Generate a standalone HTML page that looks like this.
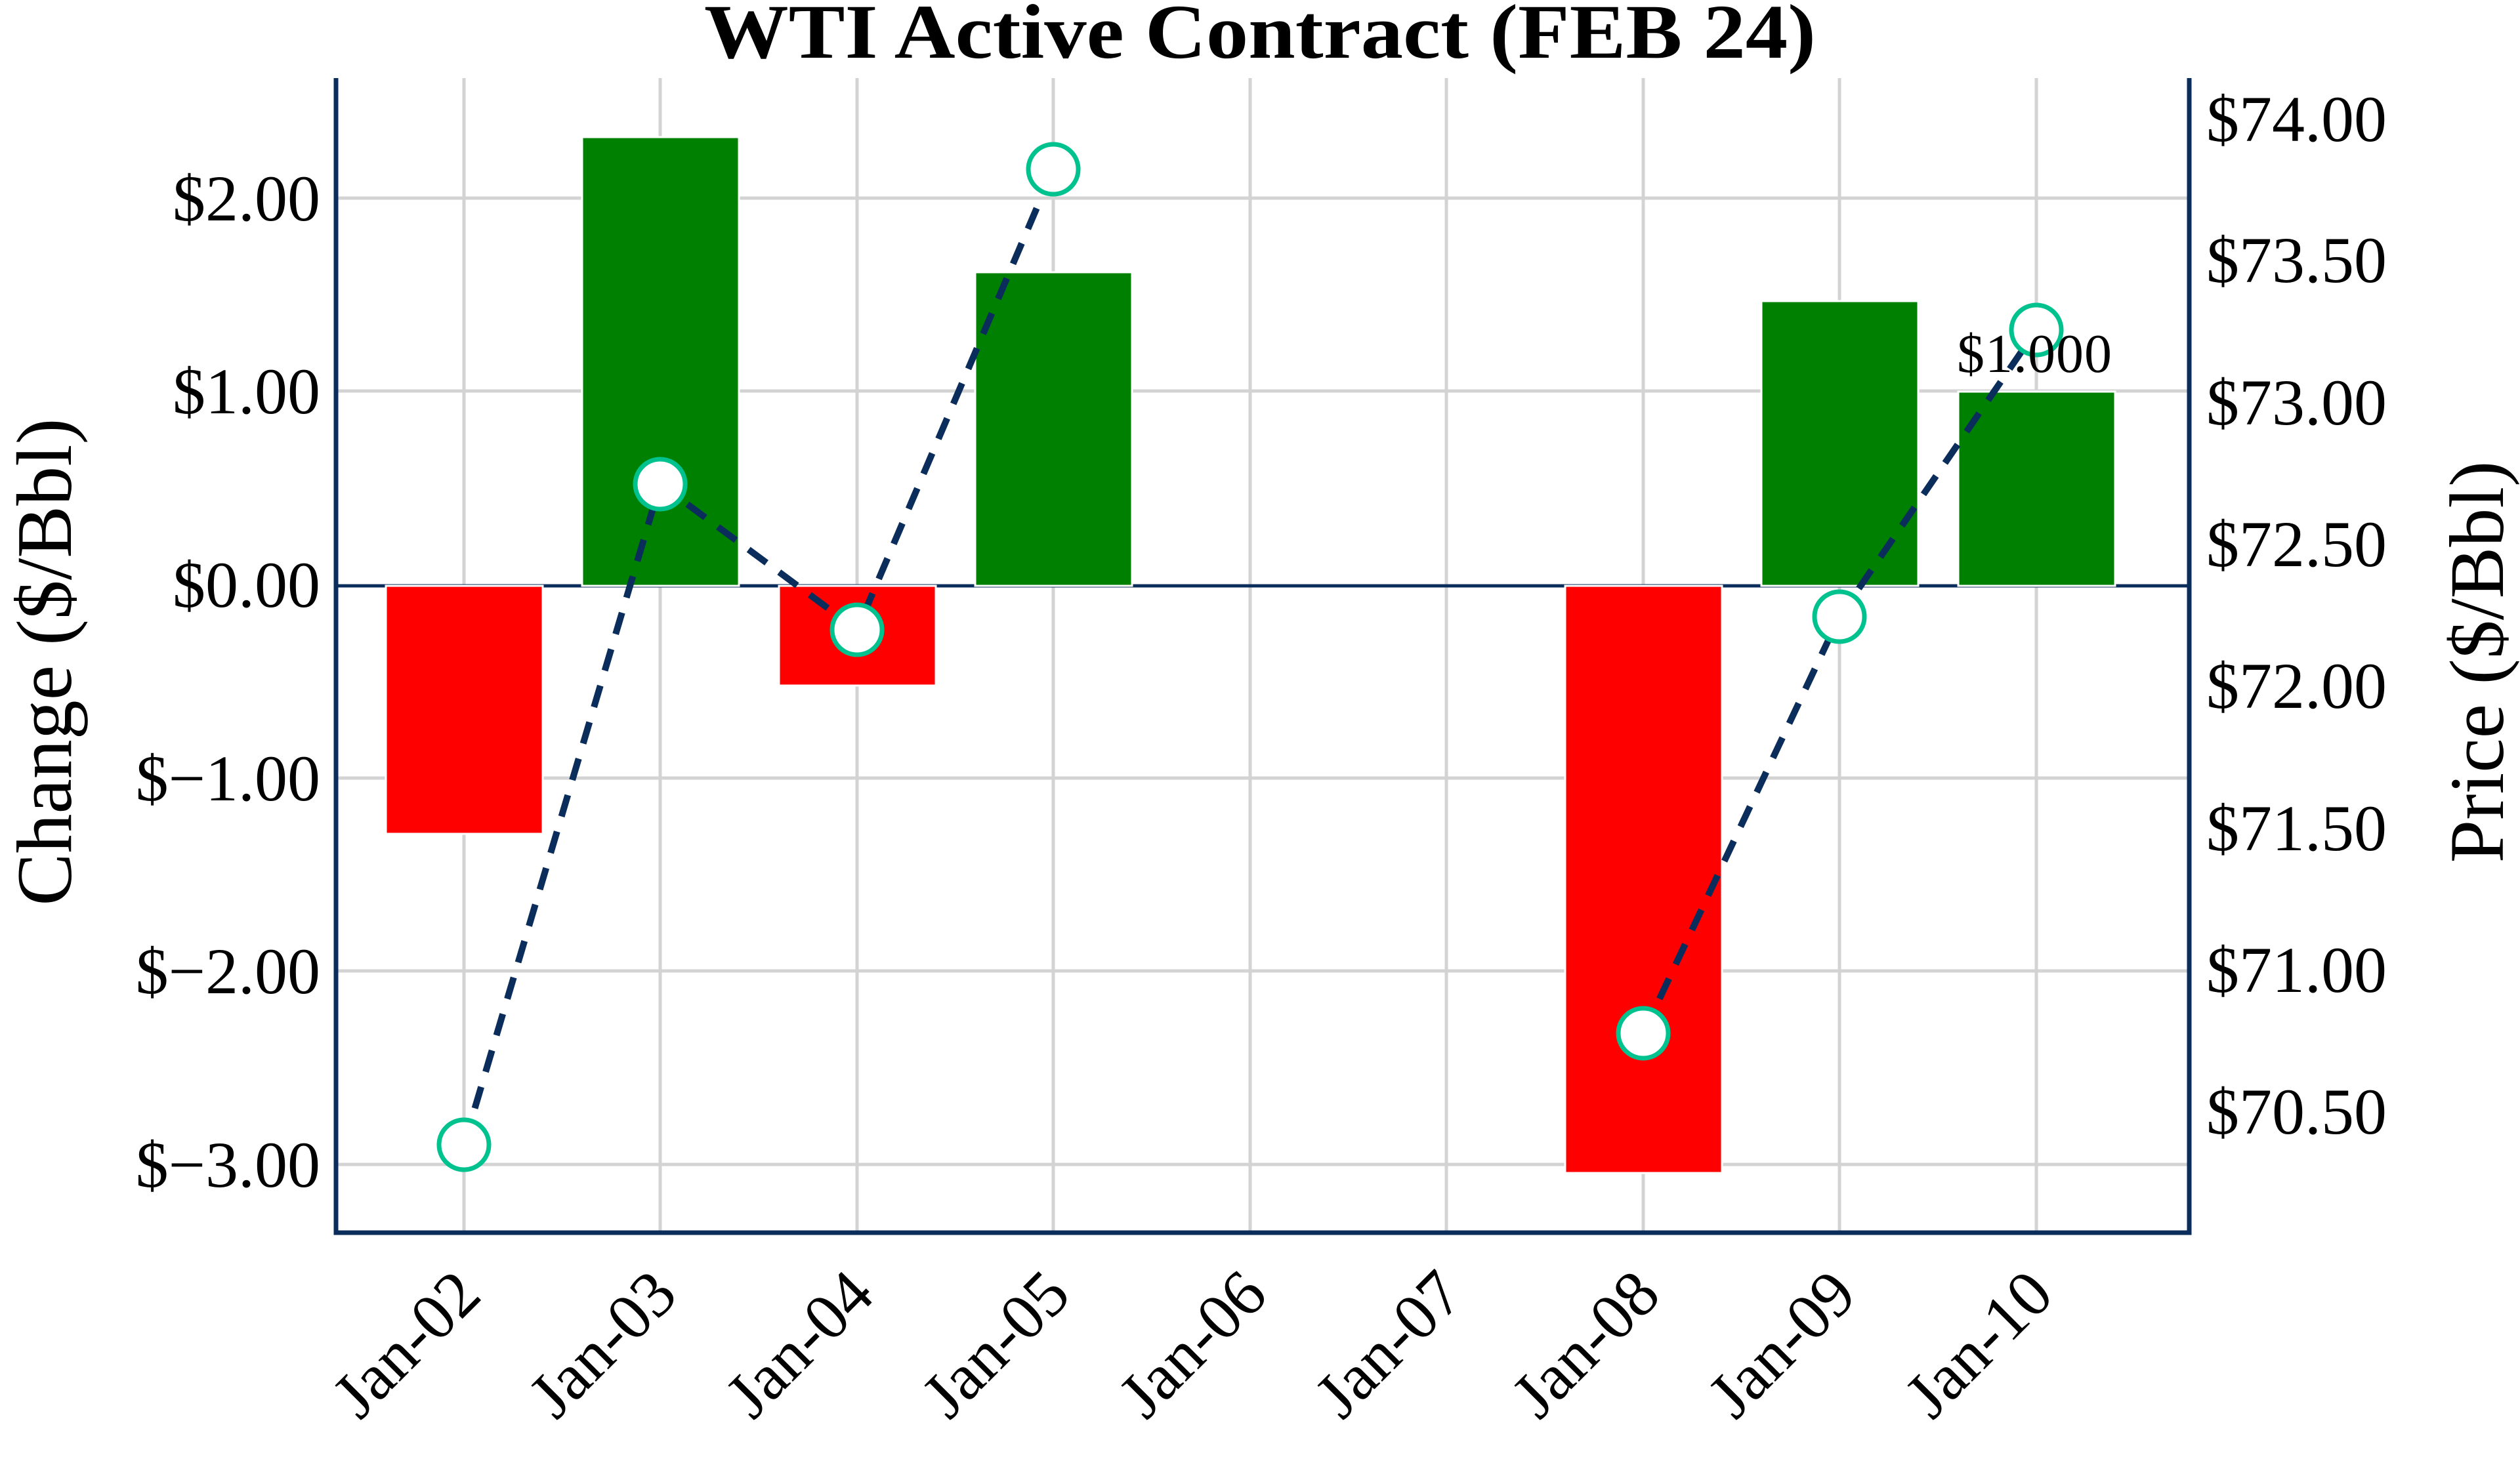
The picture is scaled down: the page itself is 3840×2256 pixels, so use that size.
<!DOCTYPE html>
<html><head><meta charset="utf-8"><style>
html,body{margin:0;padding:0;background:#fff;}
svg{display:block;}
text{font-family:"Liberation Serif",serif;fill:#000;}
</style></head><body>
<svg width="3840" height="2256" viewBox="0 0 3840 2256" xmlns="http://www.w3.org/2000/svg">
<rect width="3840" height="2256" fill="#fff"/>
<g stroke="#d3d3d3" stroke-width="5">
<line x1="707" y1="119" x2="707" y2="1879"/>
<line x1="1006" y1="119" x2="1006" y2="1879"/>
<line x1="1306" y1="119" x2="1306" y2="1879"/>
<line x1="1605" y1="119" x2="1605" y2="1879"/>
<line x1="1905" y1="119" x2="1905" y2="1879"/>
<line x1="2204" y1="119" x2="2204" y2="1879"/>
<line x1="2504" y1="119" x2="2504" y2="1879"/>
<line x1="2803" y1="119" x2="2803" y2="1879"/>
<line x1="3103" y1="119" x2="3103" y2="1879"/>
<line x1="512" y1="302" x2="3336" y2="302"/>
<line x1="512" y1="596" x2="3336" y2="596"/>
<line x1="512" y1="1186" x2="3336" y2="1186"/>
<line x1="512" y1="1480" x2="3336" y2="1480"/>
<line x1="512" y1="1775" x2="3336" y2="1775"/>
</g>
<line x1="512" y1="893" x2="3336" y2="893" stroke="#0b2d5b" stroke-width="5"/>
<g stroke="#fff" stroke-width="3">
<rect x="588" y="893" width="239" height="378" fill="#ff0000"/>
<rect x="887" y="209" width="239" height="684" fill="#008000"/>
<rect x="1187" y="893" width="239" height="152" fill="#ff0000"/>
<rect x="1486" y="415" width="239" height="478" fill="#008000"/>
<rect x="2385" y="893" width="239" height="895" fill="#ff0000"/>
<rect x="2684" y="459" width="239" height="434" fill="#008000"/>
<rect x="2984" y="597" width="239" height="296" fill="#008000"/>
</g>
<g fill="none" stroke="#0b2d5b" stroke-width="10" stroke-dasharray="34,24">
<polyline points="707,1745 1006,738 1306,960 1605,258"/>
<polyline points="2504,1575 2803,940 3103,503"/>
</g>
<g fill="#fff" stroke="#00c28e" stroke-width="7">
<circle cx="707" cy="1745" r="38"/>
<circle cx="1006" cy="738" r="38"/>
<circle cx="1306" cy="960" r="38"/>
<circle cx="1605" cy="258" r="38"/>
<circle cx="2504" cy="1575" r="38"/>
<circle cx="2803" cy="940" r="38"/>
<circle cx="3103" cy="503" r="38"/>
</g>
<text x="3100" y="567" font-size="84" text-anchor="middle" textLength="236" lengthAdjust="spacing">$1.000</text>
<g stroke="#0b2d5b" stroke-width="7" fill="none">
<polyline points="512,119 512,1879 3336,1879 3336,119"/>
</g>
<g font-size="100" text-anchor="end">
<text x="488" y="336">$2.00</text>
<text x="488" y="630">$1.00</text>
<text x="488" y="925">$0.00</text>
<text x="488" y="1220">$−1.00</text>
<text x="488" y="1514">$−2.00</text>
<text x="488" y="1809">$−3.00</text>
</g>
<g font-size="100" text-anchor="start">
<text x="3362" y="215">$74.00</text>
<text x="3362" y="430">$73.50</text>
<text x="3362" y="647">$73.00</text>
<text x="3362" y="863">$72.50</text>
<text x="3362" y="1079">$72.00</text>
<text x="3362" y="1296">$71.50</text>
<text x="3362" y="1512">$71.00</text>
<text x="3362" y="1728">$70.50</text>
</g>
<g font-size="100" text-anchor="end">
<text transform="translate(737,1978) rotate(-45)">Jan-02</text>
<text transform="translate(1036,1978) rotate(-45)">Jan-03</text>
<text transform="translate(1336,1978) rotate(-45)">Jan-04</text>
<text transform="translate(1635,1978) rotate(-45)">Jan-05</text>
<text transform="translate(1935,1978) rotate(-45)">Jan-06</text>
<text transform="translate(2234,1978) rotate(-45)">Jan-07</text>
<text transform="translate(2534,1978) rotate(-45)">Jan-08</text>
<text transform="translate(2833,1978) rotate(-45)">Jan-09</text>
<text transform="translate(3133,1978) rotate(-45)">Jan-10</text>
</g>
<text transform="translate(108,1009) rotate(-90)" font-size="120" text-anchor="middle">Change ($/Bbl)</text>
<text transform="translate(3814,1009) rotate(-90)" font-size="118" text-anchor="middle">Price ($/Bbl)</text>
<text x="1920" y="88" font-size="118" font-weight="bold" text-anchor="middle" textLength="1694" lengthAdjust="spacingAndGlyphs">WTI Active Contract (FEB 24)</text>
</svg>
</body></html>
